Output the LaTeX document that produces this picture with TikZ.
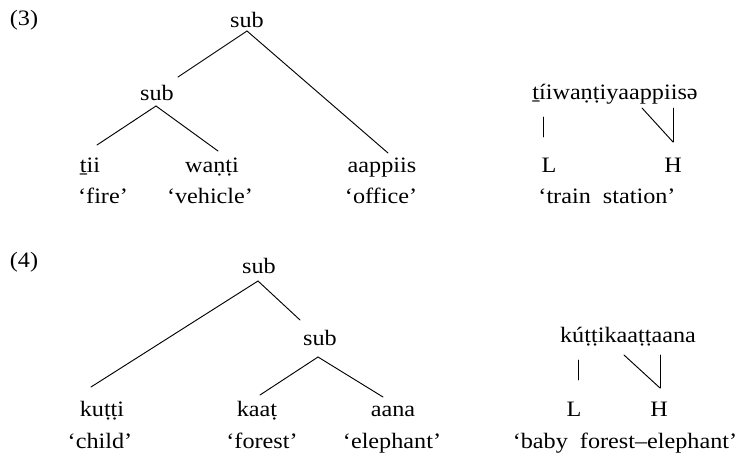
\documentclass[tikz,border=0pt]{standalone}
\usepackage{fontspec}
\setmainfont{Liberation Serif}[FakeStretch=1.1]
\usetikzlibrary{calc}
\begin{document}
\begin{tikzpicture}[x=0.75pt,y=-0.75pt,
  txt/.style={inner sep=0pt, anchor=base, font=\fontsize{16.5}{19}\selectfont},
  ln/.style={line width=0.7pt, line cap=round}]
\useasboundingbox (0,0) rectangle (738,456);
% ---------- (3) ----------
\node[txt] (n3) at (24,26) {(3)};
\node[txt] (s0) at (247,28) {sub};
\node[txt] (s1) at (157,101) {sub};
\node[txt] (w1) at (90,172) {ṯii};
\node[txt] (w2) at (212,172) {waṇṭi};
\node[txt] (w3) at (382,172) {aappiis};
\node[txt] (g1) at (103,203) {‘fire’};
\node[txt] (g2) at (210,203) {‘vehicle’};
\node[txt] (g3) at (381,203) {‘office’};
\draw[ln] ($(s0.base)+(0,3)$) -- ($(s1.base)+(21,-24)$);
\draw[ln] ($(s0.base)+(0,3)$) -- ($(w3.base)+(6,-19)$);
\draw[ln] ($(s1.base)+(-1,5)$) -- ($(w1.base)+(7,-27)$);
\draw[ln] ($(s1.base)+(-1,5)$) -- ($(w2.base)+(6,-21)$);
% right
\node[txt] (r1) at (615,100) {ṯíiwaṇṭiyaappiisə};
\node[txt] (L1) at (549,172) {L};
\node[txt] (H1) at (673,172) {H};
\node[txt] (gr1) at (607,203) {‘train\ \ station’};
\draw[ln] ($(r1.base)+(-72,17)$) -- ($(L1.base)+(-6,-35)$);
\draw[ln] ($(r1.base)+(58,8)$) -- ($(H1.base)+(0,-30)$);
\draw[ln] ($(r1.base)+(27,8)$) -- ($(H1.base)+(0,-30)$);
% ---------- (4) ----------
\node[txt] (n4) at (24,267) {(4)};
\node[txt] (t0) at (259,273) {sub};
\node[txt] (t1) at (320,345) {sub};
\node[txt] (k1) at (102,416) {kuṭṭi};
\node[txt] (k2) at (257,416) {kaaṭ};
\node[txt] (k3) at (393,416) {aana};
\node[txt] (h1) at (100,448) {‘child’};
\node[txt] (h2) at (262,448) {‘forest’};
\node[txt] (h3) at (392,448) {‘elephant’};
\draw[ln] ($(t0.base)+(-1,8)$) -- ($(k1.base)+(-11,-29)$);
\draw[ln] ($(t0.base)+(-1,8)$) -- ($(t1.base)+(-20,-25)$);
\draw[ln] ($(t1.base)+(-2,12)$) -- ($(k2.base)+(3,-21)$);
\draw[ln] ($(t1.base)+(-2,12)$) -- ($(k3.base)+(-10,-19)$);
% right
\node[txt] (r2) at (628,342) {kúṭṭikaaṭṭaana};
\node[txt] (L2) at (574,416) {L};
\node[txt] (H2) at (659,416) {H};
\node[txt] (gr2) at (625,448) {‘baby\ \ forest–elephant’};
\draw[ln] ($(r2.base)+(-50,18)$) -- ($(L2.base)+(4,-36)$);
\draw[ln] ($(r2.base)+(32,13)$) -- ($(H2.base)+(1,-28)$);
\draw[ln] ($(r2.base)+(-4,13)$) -- ($(H2.base)+(1,-28)$);
\end{tikzpicture}
\end{document}
